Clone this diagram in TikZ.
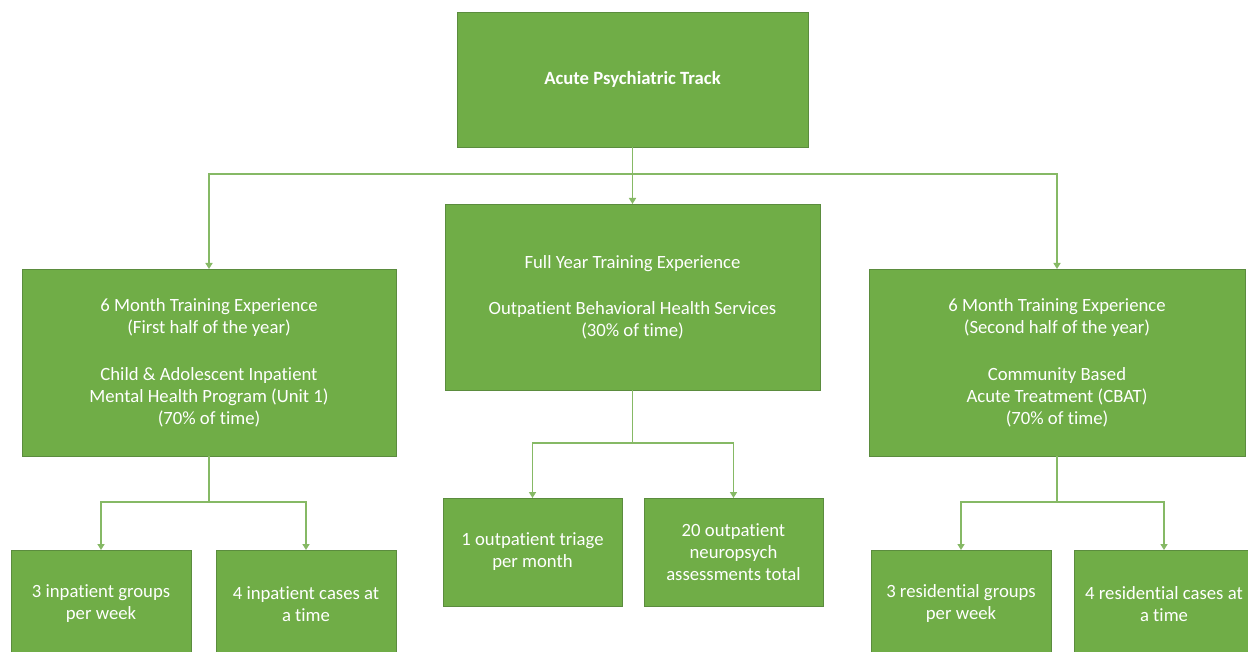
\documentclass[tikz,border=0pt]{standalone}
\usepackage{fontspec}
\setmainfont{Carlito}[RawFeature={-liga;-clig;-calt;-dlig;-rlig}]
\usetikzlibrary{arrows.meta}
\definecolor{boxfill}{HTML}{70AD47}
\definecolor{boxline}{HTML}{5B8C3E}
\definecolor{conncol}{HTML}{86B965}
\begin{document}
\begin{tikzpicture}[x=1pt,y=-1pt,
  box/.style={draw=boxline, line width=0.8pt, fill=boxfill, text=white, align=center,
    inner sep=0pt, outer sep=0pt, font=\fontsize{18.7}{22}\selectfont},
  bigbox/.style={box, minimum width=375pt, minimum height=187pt},
  smallbox/.style={box, minimum width=180pt, minimum height=108pt},
  conn/.style={draw=conncol, line width=1.5pt, -{Triangle[width=7pt,length=6pt]}},
  link/.style={draw=conncol, line width=1.5pt}]
\clip (0,0) rectangle (1248,652);
\fill[white] (0,0) rectangle (1248,652);
% main nodes
\node[box, minimum width=351pt, minimum height=135pt,
  font={\fontsize{18.7}{22}\selectfont\bfseries}] (top) at (632.5,79.5) {Acute Psychiatric Track};
\node[bigbox, minimum height=186pt] (mid) at (632.5,297) {Full Year Training Experience\\[24pt]Outpatient Behavioral Health Services\\(30\% of time)};
\node[bigbox, minimum width=374pt] (left) at (209,362.5) {6 Month Training Experience\\(First half of the year)\\[25pt]Child \& Adolescent Inpatient\\Mental Health Program (Unit 1)\\(70\% of time)};
\node[bigbox, minimum width=376pt] (right) at (1057,362.5) {6 Month Training Experience\\(Second half of the year)\\[25pt]Community Based\\Acute Treatment (CBAT)\\(70\% of time)};
% children
\node[smallbox] (lc1) at (101,604) {3 inpatient groups\\per week};
\node[smallbox] (lc2) at (306,604) {4 inpatient cases at\\a time};
\node[smallbox, minimum width=179pt] (cc1) at (532.5,552) {1 outpatient triage\\per month};
\node[smallbox, minimum width=179pt] (cc2) at (733.5,552) {20 outpatient\\neuropsych\\assessments total};
\node[smallbox] (rc1) at (961,604) {3 residential groups\\per week};
\node[smallbox] (rc2) at (1164,604) {4 residential cases at\\a time};
% connectors from top
\coordinate (hub) at (632.5,174);
\draw[conn] (hub) -| (left.north);
\draw[conn] (hub) -| (right.north);
\draw[conn] (top.south) -- (mid.north);
% left children
\draw[link] (left.south) -- ++(0,46) coordinate (lhub);
\draw[conn] (lhub) -| (lc1.north);
\draw[conn] (lhub) -| (lc2.north);
% middle children
\draw[link] (mid.south) -- ++(0,53) coordinate (mhub);
\draw[conn] (mhub) -| (cc1.north);
\draw[conn] (mhub) -| (cc2.north);
% right children
\draw[link] (right.south) -- ++(0,46) coordinate (rhub);
\draw[conn] (rhub) -| (rc1.north);
\draw[conn] (rhub) -| (rc2.north);
\end{tikzpicture}
\end{document}
